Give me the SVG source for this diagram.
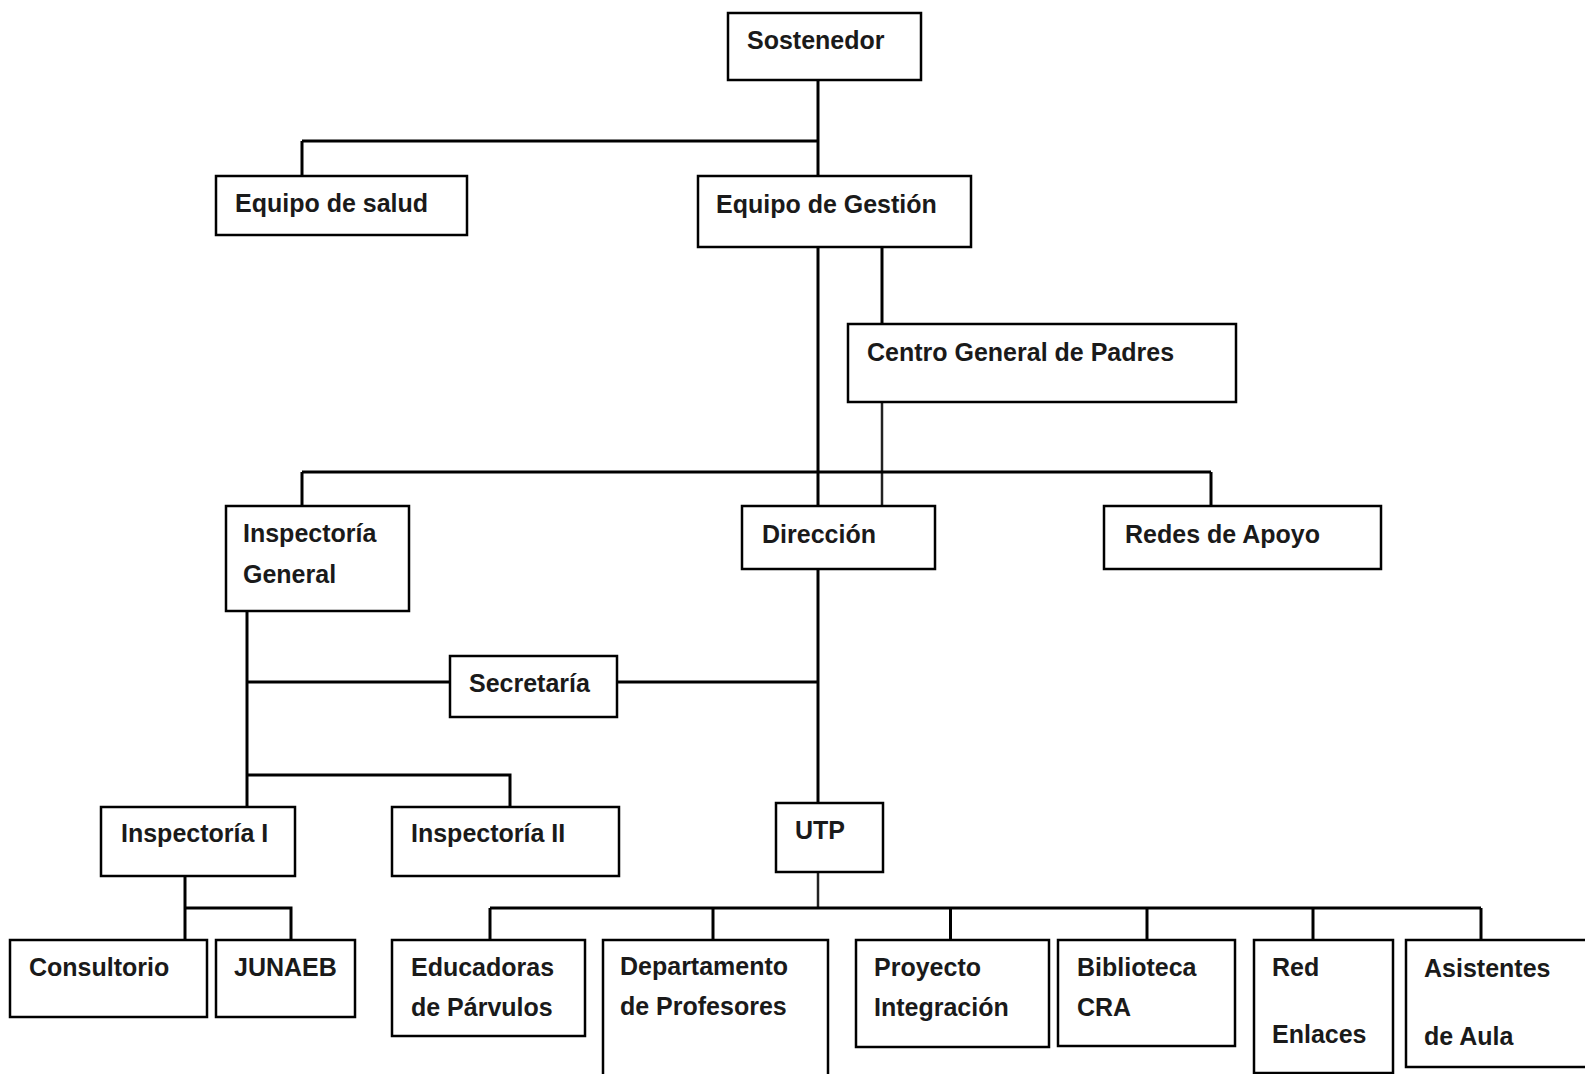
<svg xmlns="http://www.w3.org/2000/svg" width="1585" height="1074" viewBox="0 0 1585 1074">
<style>
.box{fill:#ffffff;stroke:#000000;stroke-width:2.5}
.lbl{font-family:"Liberation Sans",Arial,sans-serif;font-weight:bold;font-size:25px;fill:#1a1a1a}
.ln{fill:none;stroke:#000000;stroke-width:3}
.thin{fill:none;stroke:#222222;stroke-width:2.5}
</style>
<rect x="0" y="0" width="1585" height="1074" fill="#ffffff"/>
<g id="connectors">
<path class="ln" d="M818,80 V176"/>
<path class="ln" d="M302,141 H818"/>
<path class="ln" d="M302,141 V176"/>
<path class="ln" d="M818,247 V506"/>
<path class="ln" d="M882,247 V324"/>
<path class="thin" d="M882,402 V506"/>
<path class="ln" d="M302,472 H1211"/>
<path class="ln" d="M302,472 V506"/>
<path class="ln" d="M1211,472 V506"/>
<path class="ln" d="M247,611 V807"/>
<path class="ln" d="M247,682 H450"/>
<path class="ln" d="M617,682 H818"/>
<path class="ln" d="M818,569 V803"/>
<path class="ln" d="M247,775 H510 V807"/>
<path class="ln" d="M185,876 V940"/>
<path class="ln" d="M185,908 H291 V940"/>
<path class="thin" d="M818,872 V908"/>
<path class="ln" d="M490,908 H1481"/>
<path class="ln" d="M490,908 V940"/>
<path class="ln" d="M713,908 V940"/>
<path class="ln" d="M950.5,908 V940"/>
<path class="ln" d="M1147,908 V940"/>
<path class="ln" d="M1313,908 V940"/>
<path class="ln" d="M1481,908 V940"/>
</g>
<g id="n-sostenedor"><rect class="box" x="728" y="13" width="193" height="67"/><text class="lbl" x="747" y="49">Sostenedor</text></g>
<g id="n-salud"><rect class="box" x="216" y="176" width="251" height="59"/><text class="lbl" x="235" y="212">Equipo de salud</text></g>
<g id="n-gestion"><rect class="box" x="698" y="176" width="273" height="71"/><text class="lbl" x="716" y="213">Equipo de Gestión</text></g>
<g id="n-centro"><rect class="box" x="848" y="324" width="388" height="78"/><text class="lbl" x="867" y="361">Centro General de Padres</text></g>
<g id="n-insp-general"><rect class="box" x="226" y="506" width="183" height="105"/><text class="lbl" x="243" y="542">Inspectoría</text><text class="lbl" x="243" y="583">General</text></g>
<g id="n-direccion"><rect class="box" x="742" y="506" width="193" height="63"/><text class="lbl" x="762" y="543">Dirección</text></g>
<g id="n-redes"><rect class="box" x="1104" y="506" width="277" height="63"/><text class="lbl" x="1125" y="543">Redes de Apoyo</text></g>
<g id="n-secretaria"><rect class="box" x="450" y="656" width="167" height="61"/><text class="lbl" x="469" y="692">Secretaría</text></g>
<g id="n-insp1"><rect class="box" x="101" y="807" width="194" height="69"/><text class="lbl" x="121" y="842">Inspectoría I</text></g>
<g id="n-insp2"><rect class="box" x="392" y="807" width="227" height="69"/><text class="lbl" x="411" y="842">Inspectoría II</text></g>
<g id="n-utp"><rect class="box" x="776" y="803" width="107" height="69"/><text class="lbl" x="795" y="839">UTP</text></g>
<g id="n-consultorio"><rect class="box" x="10" y="940" width="197" height="77"/><text class="lbl" x="29" y="976">Consultorio</text></g>
<g id="n-junaeb"><rect class="box" x="216" y="940" width="139" height="77"/><text class="lbl" x="234" y="976">JUNAEB</text></g>
<g id="n-educadoras"><rect class="box" x="392" y="940" width="193" height="96"/><text class="lbl" x="411" y="976">Educadoras</text><text class="lbl" x="411" y="1016">de Párvulos</text></g>
<g id="n-departamento"><rect class="box" x="603" y="940" width="225" height="150"/><text class="lbl" x="620" y="975">Departamento</text><text class="lbl" x="620" y="1015">de Profesores</text></g>
<g id="n-proyecto"><rect class="box" x="856" y="940" width="193" height="107"/><text class="lbl" x="874" y="976">Proyecto</text><text class="lbl" x="874" y="1016">Integración</text></g>
<g id="n-biblioteca"><rect class="box" x="1058" y="940" width="177" height="106"/><text class="lbl" x="1077" y="976">Biblioteca</text><text class="lbl" x="1077" y="1016">CRA</text></g>
<g id="n-red"><rect class="box" x="1254" y="940" width="139" height="133"/><text class="lbl" x="1272" y="976">Red</text><text class="lbl" x="1272" y="1043">Enlaces</text></g>
<g id="n-asistentes"><rect class="box" x="1406" y="940" width="200" height="127"/><text class="lbl" x="1424" y="977">Asistentes</text><text class="lbl" x="1424" y="1045">de Aula</text></g>
</svg>
